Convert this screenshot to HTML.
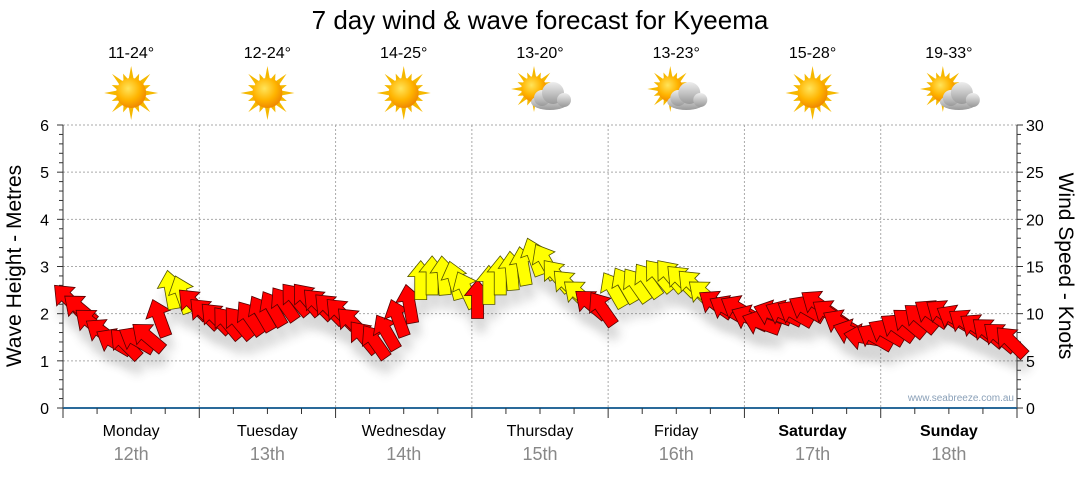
<!DOCTYPE html>
<html><head><meta charset="utf-8">
<style>
body{margin:0;background:#fff;width:1080px;height:475px;overflow:hidden;font-family:"Liberation Sans","DejaVu Sans",sans-serif}
</style></head>
<body>
<svg id="chart" width="1080" height="475" xmlns="http://www.w3.org/2000/svg">
<defs>
<radialGradient id="sunG" cx="40%" cy="35%" r="65%"><stop offset="0" stop-color="#ffe45a"/><stop offset="0.6" stop-color="#ffb400"/><stop offset="1" stop-color="#f08a00"/></radialGradient>
<linearGradient id="cloudG" x1="0" y1="0" x2="0" y2="1"><stop offset="0" stop-color="#eeeeee"/><stop offset="1" stop-color="#999"/></linearGradient>
<filter id="sh" x="-50%" y="-50%" width="200%" height="200%"><feGaussianBlur stdDeviation="5"/></filter>
</defs>
<text x="540" y="29" font-size="26" text-anchor="middle" fill="#000">7 day wind &amp; wave forecast for Kyeema</text>
<g id="grid"></g>
<g id="axes"></g>
<g id="header"></g>
<g id="shadows" opacity="0.22"></g>
<g id="arrows"></g>
<text transform="translate(21,266) rotate(-90)" font-size="21" text-anchor="middle">Wave Height - Metres</text>
<text transform="translate(1059,266) rotate(90)" font-size="21" text-anchor="middle">Wind Speed - Knots</text>
<text x="1014" y="401" font-size="10" text-anchor="end" fill="#8aa0b8">www.seabreeze.com.au</text>
</svg>
<script>
const days=["Monday","Tuesday","Wednesday","Thursday","Friday","Saturday","Sunday"];
const dates=["12th","13th","14th","15th","16th","17th","18th"];
const temps=["11-24°","12-24°","14-25°","13-20°","13-23°","15-28°","19-33°"];
const cloudy=[false,false,false,true,true,false,true];
const waveTicks=[0,1,2,3,4,5,6];
const windTicks=[0,5,10,15,20,25,30];
const windSpeed=[
11.5,10.5,9,8,7,6.8,7.2,7.5,9.5,12.5,12,11,
10,9.5,9,9,9.5,10,10.5,11,11.5,11.5,11,10.5,
10,9,7.5,7,8,9.5,11,13.5,14,14,13.5,12.5,
11.5,13,14,14.5,15,16,15.5,14,13,12,11,10.5,
12.5,13,13,13.5,14,14,13.5,13,12,11,10.5,10.5,
9.5,9,10,10,10,10.5,11,10,9,8,7.5,7.5,
8,8.5,9,9.5,10,10,9.5,9,8.5,8,7.5,7];
const windDir=[
-45,-50,-50,-55,-60,-45,-60,-50,-20,-10,-20,-45,
-45,-45,-40,-40,-35,-30,-30,-35,-40,-40,-45,-45,
-45,-45,-40,-35,-30,-20,-10,0,0,-5,-15,-25,
0,0,0,-5,-10,-20,-30,-40,-45,-50,-50,-35,
-30,-30,-35,-35,-40,-40,-45,-45,-50,-55,-60,-60,
-65,-70,-70,-65,-60,-60,-55,-55,-60,-70,-80,-60,
-60,-55,-50,-50,-55,-55,-60,-55,-55,-50,-50,-45];
const NS="http://www.w3.org/2000/svg";
const X0=63,X1=1017,Y0=408,Y1=125;
const dayW=(X1-X0)/7;
function xT(hours){return X0+hours/168*(X1-X0);}
function yWave(m){return Y0-m/6*(Y0-Y1);}
function yWind(k){return Y0-k/30*(Y0-Y1);}
function mk(tag,attrs,parent){const e=document.createElementNS(NS,tag);for(const k in attrs)e.setAttribute(k,attrs[k]);document.getElementById(parent).appendChild(e);return e;}
waveTicks.forEach(v=>{if(v>0){const l=mk('line',{x1:X0,x2:X1,y1:yWave(v),y2:yWave(v),stroke:'#aaa','stroke-dasharray':'2,2'},'grid');

}});
for(let d=1;d<7;d++){const l=mk('line',{x1:xT(d*24),x2:xT(d*24),y1:Y1,y2:Y0,stroke:'#aaa','stroke-dasharray':'2,2'},'grid');

}
mk('line',{x1:X0,x2:X0,y1:Y1,y2:Y0,stroke:'#333'},'axes');
mk('line',{x1:X1,x2:X1,y1:Y1,y2:Y0,stroke:'#333'},'axes');
mk('line',{x1:X0,x2:X1,y1:Y0,y2:Y0,stroke:'#2a6a9a','stroke-width':2},'axes');
for(let i=0;i<=30;i++){const y=yWave(i*0.2);mk('line',{x1:X0-(i%5==0?6:4),x2:X0,y1:y,y2:y,stroke:'#333'},'axes');}
for(let i=0;i<=30;i++){const y=yWind(i);mk('line',{x1:X1,x2:X1+(i%5==0?6:4),y1:y,y2:y,stroke:'#333'},'axes');}
waveTicks.forEach(v=>{const t=mk('text',{x:49,y:yWave(v)+6,'font-size':16,'text-anchor':'end'},'axes');t.textContent=v;

});
windTicks.forEach(v=>{const t=mk('text',{x:1026,y:yWind(v)+6,'font-size':16},'axes');t.textContent=v;

});
for(let h=0;h<=168;h+=6){const x=xT(h);mk('line',{x1:x,x2:x,y1:Y0,y2:Y0+(h%24==0?10:6),stroke:'#333'},'axes');}
days.forEach((d,i)=>{const cx=X0+dayW*(i+0.5);
const t=mk('text',{x:cx,y:436,'font-size':16,'text-anchor':'middle','font-weight':i>=5?'bold':'normal'},'axes');t.textContent=d;


const t2=mk('text',{x:cx,y:460,'font-size':18,'text-anchor':'middle',fill:'#888'},'axes');t2.textContent=dates[i];


const t3=mk('text',{x:cx,y:58,'font-size':16,'text-anchor':'middle'},'header');t3.textContent=temps[i];


const g=mk('g',{transform:`translate(${cx},93)`},'header');


let rays='';for(let k=0;k<16;k++){const a=k*Math.PI/8,r=k%2?21:27;const a1=a-0.18,a2=a+0.18;rays+=`<polygon points="${Math.cos(a1)*14},${Math.sin(a1)*14} ${Math.cos(a)*r},${Math.sin(a)*r} ${Math.cos(a2)*14},${Math.sin(a2)*14}" fill="#f5b800"/>`;}
const sx=cloudy[i]?-6:0, sc=cloudy[i]?0.85:1;
let html=`<g transform="translate(${sx},${cloudy[i]?-4:0}) scale(${sc})">${rays}<circle r="15" fill="url(#sunG)"/></g>`;
if(cloudy[i])html+=`<g fill="url(#cloudG)"><ellipse cx="10" cy="9" rx="19" ry="8"/><circle cx="2" cy="5" r="8"/><circle cx="13" cy="0" r="11"/><circle cx="24" cy="7" r="7"/></g>`;
g.innerHTML=html;});
const pts="0,-20 -13,-4 -6,-4 -6,19 6,19 6,-4 13,-4";
windSpeed.forEach((s,i)=>{const x=xT(i*2+1),y=yWind(s);
const sh=mk('polygon',{points:pts,transform:`translate(${x+3},${y+14}) rotate(${windDir[i]})`,fill:'#444',filter:'url(#sh)'},'shadows');


const a=mk('polygon',{points:pts,transform:`translate(${x},${y}) rotate(${windDir[i]})`,fill:s>=12?'#ffff00':'#ff0000',stroke:s>=12?'#555500':'#550000','stroke-width':0.8},'arrows');

});
</script>
</body></html>
